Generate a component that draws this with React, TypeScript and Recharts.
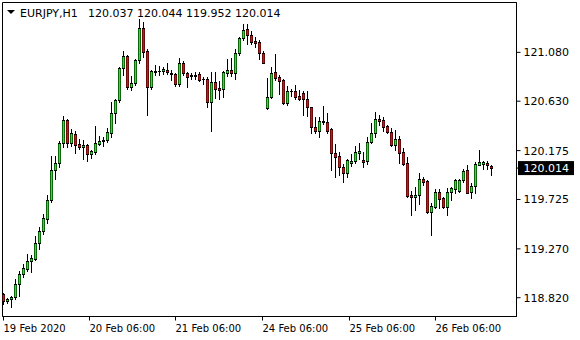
import { ComposedChart, Bar, XAxis, YAxis, ReferenceArea } from "recharts"

const SYMBOL = "EURJPY,H1"

// hourly bars, 19 Feb 2020 -> 26 Feb 2020
const OPEN = [
  118.854, 118.793, 118.806, 118.824, 118.947, 119.039, 119.082, 119.156, 119.179, 119.327,
  119.432, 119.548, 119.720, 119.996, 120.058, 120.242, 120.457, 120.248, 120.328, 120.236,
  120.205, 120.224, 120.148, 120.162, 120.240, 120.259, 120.272, 120.340, 120.518, 120.641,
  120.933, 121.043, 120.758, 120.795, 121.009, 121.301, 121.089, 120.763, 120.903, 120.908,
  120.905, 120.917, 120.889, 120.880, 120.788, 120.984, 120.887, 120.866, 120.868, 120.880,
  120.830, 120.837, 120.627, 120.807, 120.751, 120.739, 120.892, 120.917, 120.887, 121.071,
  121.212, 121.292, 121.237, 121.187, 121.172, 121.076, 120.564, 120.666, 120.899, 120.850,
  120.825, 120.616, 120.721, 120.726, 120.678, 120.702, 120.653, 120.574, 120.395, 120.358,
  120.445, 120.438, 120.371, 120.150, 120.125, 120.021, 119.971, 120.063, 120.082, 120.156,
  120.088, 120.082, 120.254, 120.334, 120.469, 120.457, 120.401, 120.346, 120.224, 120.279,
  120.162, 120.058, 119.763, 119.745, 119.763, 119.916, 119.892, 119.610, 119.658, 119.794,
  119.738, 119.653, 119.794, 119.824, 119.800, 119.904, 119.996, 119.794, 119.849, 120.045,
  120.051, 120.063, 120.037,
]
const HIGH = [
  118.866, 118.818, 118.836, 118.990, 119.063, 119.131, 119.223, 119.211, 119.389, 119.474,
  119.591, 119.769, 120.125, 120.125, 120.266, 120.493, 120.469, 120.371, 120.353, 120.279,
  120.272, 120.236, 120.180, 120.401, 120.309, 120.303, 120.380, 120.622, 120.653, 120.947,
  121.092, 121.055, 120.862, 121.021, 121.387, 121.362, 121.108, 120.917, 120.966, 120.954,
  120.942, 120.984, 120.917, 120.887, 121.028, 121.003, 120.899, 120.892, 120.899, 120.899,
  120.855, 120.855, 120.899, 120.899, 120.813, 120.911, 121.021, 121.028, 121.113, 121.218,
  121.341, 121.341, 121.276, 121.218, 121.193, 121.089, 120.841, 120.947, 121.064, 120.868,
  120.837, 120.770, 120.739, 120.776, 120.733, 120.726, 120.721, 120.579, 120.487, 120.487,
  120.586, 120.518, 120.380, 120.236, 120.162, 120.051, 120.095, 120.144, 120.217, 120.242,
  120.162, 120.303, 120.426, 120.530, 120.500, 120.482, 120.413, 120.383, 120.365, 120.309,
  120.199, 120.113, 119.800, 119.837, 119.966, 119.935, 119.904, 119.690, 119.824, 119.824,
  119.750, 119.830, 119.842, 119.916, 119.916, 120.003, 120.045, 119.879, 120.070, 120.180,
  120.082, 120.082, 120.044,
]
const LOW = [
  118.762, 118.774, 118.732, 118.806, 118.836, 119.008, 119.063, 119.057, 119.168, 119.272,
  119.407, 119.511, 119.702, 119.911, 120.027, 120.211, 120.211, 120.217, 120.150, 120.187,
  120.100, 120.082, 120.107, 120.144, 120.226, 120.217, 120.254, 120.303, 120.429, 120.625,
  120.871, 120.745, 120.733, 120.782, 120.984, 121.034, 120.505, 120.745, 120.868, 120.868,
  120.880, 120.880, 120.825, 120.770, 120.770, 120.868, 120.758, 120.837, 120.837, 120.813,
  120.788, 120.579, 120.351, 120.659, 120.653, 120.671, 120.862, 120.862, 120.837, 121.058,
  121.193, 121.156, 121.156, 121.132, 121.016, 120.979, 120.560, 120.660, 120.825, 120.696,
  120.604, 120.597, 120.678, 120.653, 120.641, 120.500, 120.493, 120.340, 120.340, 120.297,
  120.420, 120.340, 119.996, 119.929, 119.947, 119.886, 119.929, 120.033, 120.058, 120.100,
  120.027, 120.051, 120.242, 120.303, 120.408, 120.358, 120.334, 120.217, 120.180, 120.058,
  120.045, 119.745, 119.585, 119.628, 119.683, 119.861, 119.603, 119.400, 119.646, 119.646,
  119.646, 119.579, 119.720, 119.787, 119.794, 119.886, 119.787, 119.738, 119.787, 120.039,
  120.003, 120.003, 119.952,
]
const CLOSE = [
  118.793, 118.806, 118.824, 118.947, 119.039, 119.094, 119.156, 119.186, 119.327, 119.432,
  119.554, 119.720, 119.996, 120.063, 120.242, 120.457, 120.248, 120.334, 120.229, 120.205,
  120.226, 120.144, 120.168, 120.242, 120.261, 120.277, 120.343, 120.518, 120.641, 120.933,
  121.043, 120.758, 120.795, 121.009, 121.301, 121.086, 120.763, 120.908, 120.908, 120.905,
  120.923, 120.899, 120.880, 120.788, 120.979, 120.887, 120.855, 120.868, 120.866, 120.825,
  120.837, 120.627, 120.807, 120.742, 120.733, 120.899, 120.917, 120.887, 121.071, 121.212,
  121.285, 121.237, 121.179, 121.168, 121.071, 120.984, 120.666, 120.887, 120.843, 120.819,
  120.616, 120.721, 120.726, 120.666, 120.653, 120.647, 120.579, 120.389, 120.358, 120.445,
  120.440, 120.353, 120.150, 120.119, 120.027, 119.971, 120.088, 120.082, 120.162, 120.174,
  120.070, 120.254, 120.334, 120.469, 120.450, 120.395, 120.346, 120.224, 120.279, 120.156,
  120.051, 119.757, 119.745, 119.763, 119.916, 119.886, 119.610, 119.665, 119.794, 119.732,
  119.653, 119.794, 119.830, 119.904, 119.904, 119.990, 119.787, 119.849, 120.051, 120.070,
  120.070, 120.039, 120.014,
]

const PRICE_TICKS = [118.82, 119.27, 119.725, 120.175, 120.63, 121.08]
const TIME_TICKS = [0, 21.5, 43, 64.75, 86.5, 108]
const TIME_LABELS = [
  "19 Feb 2020",
  "20 Feb 06:00",
  "21 Feb 06:00",
  "24 Feb 06:00",
  "25 Feb 06:00",
  "26 Feb 06:00",
]

const X_DOMAIN: [number, number] = [-0.25, 128.25]
const Y_DOMAIN: [number, number] = [118.647, 121.539]

const BULL = "#00ff00"
const BEAR = "#ff0000"
const BULL_EDGE = "#0a6a0a"
const BEAR_EDGE = "#6e0a0a"
const FONT = "'DejaVu Sans', Verdana, sans-serif"

const data = OPEN.map((open, i) => ({ i, open, high: HIGH[i], low: LOW[i], close: CLOSE[i] }))
const last = data[data.length - 1]

function Candle(props: any) {
  const { x, y, width, height, payload } = props
  if (x == null || y == null || !payload) return null
  const { open, high, low, close } = payload
  // left pixel column of the 3px body, wick sits in the middle one
  const col = Math.round(x + width / 2 - 1.5)
  const top = Math.min(y, y + height)
  const h = Math.abs(height)
  const k = high > low ? h / (high - low) : 0
  const yOf = (v: number) => Math.round(top + (high - v) * k)
  const bTop = yOf(Math.max(open, close))
  const bBot = yOf(Math.min(open, close))
  const hi = Math.round(top)
  const lo = Math.round(top + h)
  const bodyH = bBot - bTop + 1
  const up = close >= open
  return (
    <g shapeRendering="crispEdges">
      <rect x={col + 1} y={hi} width={1} height={Math.max(lo - hi + 1, 1)} fill="#000" />
      {bodyH > 2 ? (
        <>
          <rect x={col} y={bTop} width={3} height={bodyH} fill={up ? BULL_EDGE : BEAR_EDGE} />
          <rect x={col + 1} y={bTop + 1} width={1} height={bodyH - 2} fill={up ? BULL : BEAR} />
          <rect x={col} y={bTop} width={3} height={1} fill="#000" />
          <rect x={col} y={bBot} width={3} height={1} fill="#000" />
        </>
      ) : (
        <rect x={col} y={bTop} width={3} height={bodyH} fill="#000" />
      )}
    </g>
  )
}

function TimeTick({ x, y, payload }: any) {
  const label = TIME_LABELS[TIME_TICKS.indexOf(payload.value)]
  return (
    <text x={x} y={y + 9} fontSize={10} fontFamily={FONT} fill="#000">
      {label}
    </text>
  )
}

function PriceTick({ x, y, payload }: any) {
  const v = payload.value
  if (v === last.close) {
    return (
      <g>
        <rect x={x - 5.5} y={y - 7} width={56} height={14} fill="#000" />
        <text x={x} y={y + 4} fontSize={11} fontFamily={FONT} fill="#fff">
          {v.toFixed(3)}
        </text>
      </g>
    )
  }
  return (
    <text x={x} y={y + 4} fontSize={11} fontFamily={FONT} fill="#000">
      {v.toFixed(3)}
    </text>
  )
}

export default function App() {
  const header = [last.open, last.high, last.low, last.close].map((v) => v.toFixed(3)).join(" ")
  return (
    <div style={{ position: "fixed", left: 0, top: 0, width: 580, height: 340, background: "#fff" }}>
      <ComposedChart
        width={580}
        height={340}
        data={data}
        margin={{ top: 2.5, right: 0, bottom: 0, left: 2.5 }}
      >
        <XAxis
          dataKey="i"
          type="number"
          domain={X_DOMAIN}
          allowDataOverflow
          ticks={TIME_TICKS}
          interval={0}
          height={23.5}
          tickSize={4}
          tickMargin={2}
          stroke="#000"
          tick={<TimeTick />}
        />
        <YAxis
          orientation="right"
          type="number"
          domain={Y_DOMAIN}
          allowDataOverflow
          ticks={[...PRICE_TICKS, last.close]}
          interval={0}
          width={63.5}
          tickSize={4}
          tickMargin={3}
          stroke="#000"
          tick={<PriceTick />}
        />
        <ReferenceArea
          x1={X_DOMAIN[0]}
          x2={X_DOMAIN[1]}
          y1={Y_DOMAIN[0]}
          y2={Y_DOMAIN[1]}
          fill="none"
          fillOpacity={0}
          stroke="#000"
          strokeOpacity={1}
          ifOverflow="visible"
        />
        <Bar
          dataKey={(d: any) => [d.low, d.high]}
          barSize={4}
          shape={(p: any) => <Candle {...p} />}
          isAnimationActive={false}
        />
      </ComposedChart>
      <svg width={320} height={22} style={{ position: "absolute", left: 0, top: 0 }}>
        <polygon points="7,10 15,10 11,14" fill="#000" />
        <text x={20} y={16.5} fontSize={11} fontFamily={FONT} fill="#000">
          {SYMBOL}
        </text>
        <text x={88} y={16.5} fontSize={11} fontFamily={FONT} fill="#000">
          {header}
        </text>
      </svg>
    </div>
  )
}
